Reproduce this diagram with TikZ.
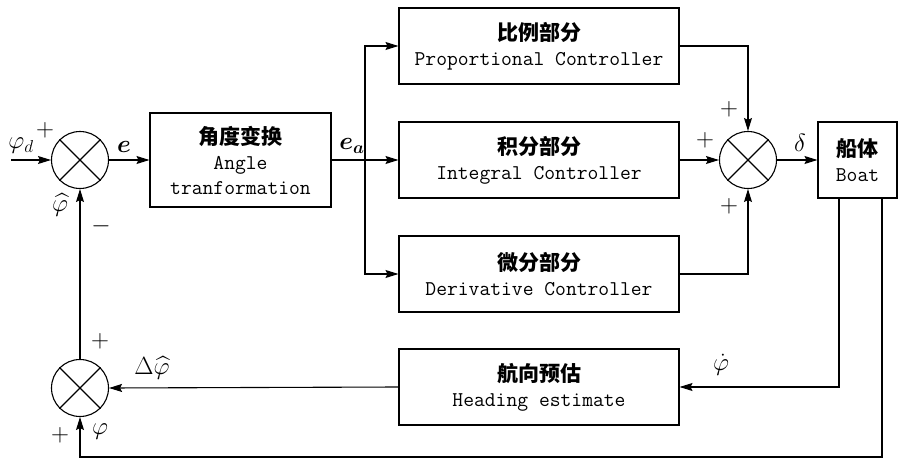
\documentclass[tikz,border=0pt]{standalone}
\usepackage{fontspec}
\usepackage{amsmath}
\newfontfamily\cjk{Noto Sans CJK SC}
\usetikzlibrary{arrows.meta}
\tikzset{
  blockbox/.style={draw, line width=1.1pt, minimum width=280pt, minimum height=76pt, align=center, inner sep=0pt, font=\fontsize{21}{25}\selectfont},
  sumj/.style={draw, circle, line width=1.1pt, minimum size=57pt, inner sep=0pt},
  conn/.style={line width=1.1pt},
  arr/.style={line width=1.1pt, -{Stealth[length=13pt,width=8pt,inset=2pt]}},
  lbl/.style={font=\fontsize{23}{24}\selectfont, inner sep=0pt},
  sign/.style={font=\fontsize{30}{30}\selectfont, inner sep=0pt}
}
\newcommand{\cn}[1]{{\cjk\bfseries #1}}
\newcommand{\en}[1]{{\ttfamily #1}}
\begin{document}
\begin{tikzpicture}[x=1pt,y=-1pt]
\useasboundingbox (0,0) rectangle (898,458);
% sum junctions
\node[sumj] (s1) at (80,160) {};
\node[sumj] (s2) at (748,160) {};
\node[sumj] (s3) at (80,388) {};
\foreach \s in {s1,s2,s3}{
  \draw[conn] (\s.north east) -- (\s.south west);
  \draw[conn] (\s.north west) -- (\s.south east);
}
% blocks
\node[blockbox, minimum width=181pt, minimum height=94pt] (A) at (240.5,160) {\cn{角度变换}\\\en{Angle}\\\en{tranformation}};
\node[blockbox] (P) at (539,46) {\cn{比例部分}\\\en{Proportional Controller}};
\node[blockbox] (I) at (539,160) {\cn{积分部分}\\\en{Integral Controller}};
\node[blockbox] (D) at (539,274) {\cn{微分部分}\\\en{Derivative Controller}};
\node[blockbox] (H) at (539,387) {\cn{航向预估}\\\en{Heading estimate}};
\node[blockbox, minimum width=79pt] (B) at (857.5,160) {\cn{船体}\\\en{Boat}};
% coordinates
\coordinate (in) at (11,160);
\coordinate (br) at (365,160);
\coordinate (b1) at (839,160);
\coordinate (b2) at (882,160);
\coordinate (bot) at (882,457);
% connectors
\draw[arr] (in) -- (s1.west);
\draw[arr] (s1.east) -- (A.west);
\draw[conn] (A.east) -- (br);
\draw[arr] (br) -- (I.west);
\draw[arr] (br) |- (P.west);
\draw[arr] (br) |- (D.west);
\draw[arr] (P.east) -| (s2.north);
\draw[arr] (I.east) -- (s2.west);
\draw[arr] (D.east) -| (s2.south);
\draw[arr] (s2.east) -- (B.west);
\draw[arr] (b1 |- B.south) |- (H.east);
\draw[arr] (b2 |- B.south) -- (bot) -| (s3.south);
\draw[arr] (H.west) -- (s3.east);
\draw[arr] (s3.north) -- (s1.south);
% labels
\node[lbl] (lphid) at (21,146) {$\varphi_d$};
\node[sign] (p1) at (45,130) {$+$};
\node[lbl] (le) at (124,147) {$\boldsymbol{e}$};
\node[lbl] (lphih) at (60,205) {$\widehat{\varphi}$};
\node[sign] (m1) at (101,226) {$-$};
\node[lbl] (lea) at (352,146) {$\boldsymbol{e_a}$};
\node[sign] (p2) at (729,109) {$+$};
\node[sign] (p3) at (705,140) {$+$};
\node[sign] (p4) at (729,206) {$+$};
\node[lbl] (ldelta) at (800,143) {$\delta$};
\node[lbl] (lphidot) at (721,365) {$\dot{\varphi}$};
\node[lbl] (ldphi) at (152,368) {$\Delta\widehat{\varphi}$};
\node[sign] (p5) at (100,341) {$+$};
\node[sign] (p6) at (60,435) {$+$};
\node[lbl] (lphi) at (100,432) {$\varphi$};
\end{tikzpicture}
\end{document}
